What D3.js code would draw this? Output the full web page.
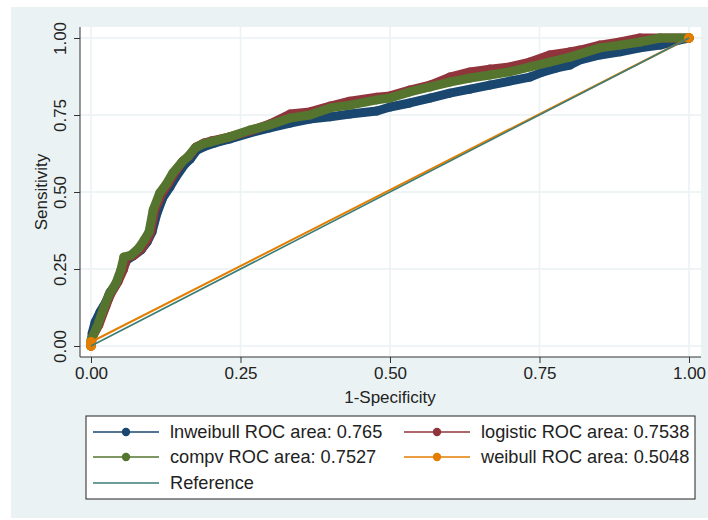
<!DOCTYPE html>
<html>
<head>
<meta charset="utf-8">
<script src="https://cdn.jsdelivr.net/npm/d3@7"></script>
<style>
  body { margin: 0; background: #fff; }
  svg { font-family: "Liberation Sans", Arial, sans-serif; }
</style>
</head>
<body>
<div id="chart"></div>
<script>
// ROC points, [1-specificity, sensitivity]
const lnweibull = [[0,0],[0.002,0.042],[0.007,0.078],[0.015,0.110],[0.025,0.143],[0.032,0.175],[0.042,0.201],[0.050,0.237],[0.060,0.279],[0.070,0.292],[0.084,0.312],[0.094,0.338],[0.102,0.370],[0.110,0.429],[0.120,0.481],[0.132,0.516],[0.142,0.549],[0.156,0.588],[0.166,0.607],[0.177,0.636],[0.191,0.649],[0.207,0.659],[0.232,0.672],[0.266,0.692],[0.299,0.708],[0.333,0.724],[0.366,0.737],[0.400,0.744],[0.433,0.753],[0.478,0.763],[0.500,0.776],[0.533,0.789],[0.567,0.805],[0.600,0.821],[0.634,0.834],[0.667,0.847],[0.700,0.860],[0.734,0.873],[0.756,0.890],[0.779,0.903],[0.801,0.912],[0.818,0.929],[0.851,0.945],[0.885,0.955],[0.918,0.968],[0.952,0.977],[0.985,0.994],[1,1]]
const logistic = [[0,0],[0.003,0.032],[0.013,0.068],[0.025,0.130],[0.033,0.169],[0.045,0.208],[0.054,0.247],[0.060,0.286],[0.072,0.295],[0.085,0.318],[0.094,0.344],[0.100,0.370],[0.107,0.442],[0.119,0.497],[0.130,0.529],[0.140,0.562],[0.154,0.601],[0.164,0.617],[0.176,0.646],[0.189,0.659],[0.202,0.666],[0.232,0.679],[0.266,0.698],[0.299,0.721],[0.333,0.753],[0.366,0.760],[0.400,0.779],[0.433,0.795],[0.478,0.808],[0.500,0.812],[0.533,0.831],[0.567,0.847],[0.600,0.873],[0.634,0.890],[0.667,0.899],[0.700,0.906],[0.734,0.922],[0.767,0.945],[0.801,0.955],[0.818,0.961],[0.851,0.977],[0.885,0.987],[0.918,1.0],[1,1]]
const compv = [[0,0],[0,0.019],[0.010,0.062],[0.022,0.127],[0.030,0.166],[0.042,0.205],[0.050,0.247],[0.055,0.289],[0.067,0.295],[0.080,0.318],[0.089,0.344],[0.097,0.370],[0.104,0.442],[0.115,0.497],[0.127,0.529],[0.137,0.562],[0.152,0.597],[0.162,0.614],[0.174,0.643],[0.187,0.656],[0.199,0.662],[0.232,0.679],[0.266,0.701],[0.299,0.718],[0.333,0.740],[0.366,0.750],[0.400,0.773],[0.433,0.782],[0.478,0.799],[0.500,0.805],[0.533,0.825],[0.567,0.841],[0.600,0.857],[0.634,0.870],[0.667,0.880],[0.700,0.890],[0.734,0.906],[0.767,0.922],[0.801,0.938],[0.851,0.968],[0.885,0.977],[0.918,0.987],[0.952,1.0],[1,1]]
const weibull = [[0,0],[0,0.013],[1,1]]
const reference = [[0,0],[1,1]]

const ticks = [0, 0.25, 0.5, 0.75, 1]
const series = [
  {name: 'lnweibull ROC area: 0.765', data: lnweibull, color: '#1a476f', thick: true},
  {name: 'logistic ROC area: 0.7538', data: logistic, color: '#90353b', thick: true},
  {name: 'compv ROC area: 0.7527', data: compv, color: '#55752f', thick: true},
  {name: 'weibull ROC area: 0.5048', data: weibull, color: '#e37e00', thick: false},
]

const svg = d3.select('#chart').append('svg')
  .attr('width', 708)
  .attr('height', 520)

// outer stata-style background
svg.append('rect').attr('x', 11).attr('y', 7).attr('width', 697).attr('height', 511).attr('fill', '#eaf2f3')

const plot = {left: 80, right: 701, top: 27, bottom: 357}
svg.append('rect')
  .attr('x', plot.left).attr('y', plot.top)
  .attr('width', plot.right - plot.left).attr('height', plot.bottom - plot.top)
  .attr('fill', '#fff')

const x = d3.scaleLinear().domain([0, 1]).range([91, 689])
const y = d3.scaleLinear().domain([0, 1]).range([346, 38])

// grid
svg.append('g').selectAll('line.gx')
  .data(ticks).enter().append('line')
  .attr('x1', d => x(d)).attr('x2', d => x(d))
  .attr('y1', plot.top).attr('y2', plot.bottom)
  .attr('stroke', '#eaf2f3').attr('stroke-width', 1.5)
svg.append('g').selectAll('line.gy')
  .data(ticks).enter().append('line')
  .attr('y1', d => y(d)).attr('y2', d => y(d))
  .attr('x1', plot.left).attr('x2', plot.right)
  .attr('stroke', '#eaf2f3').attr('stroke-width', 1.5)

// axes
const xAxis = svg.append('g').attr('transform', `translate(0,${plot.bottom})`)
  .call(d3.axisBottom(x).tickValues(ticks).tickFormat(d3.format('.2f')).tickSize(6).tickPadding(4).tickSizeOuter(0))
xAxis.select('.domain').attr('d', `M${plot.left},0H${plot.right}`).attr('stroke', '#333')
xAxis.selectAll('.tick line').attr('stroke', '#333')
xAxis.selectAll('.tick text').attr('font-size', 17).attr('fill', '#222').attr('font-family', null)

const yAxis = svg.append('g').attr('transform', `translate(${plot.left},0)`)
  .call(d3.axisLeft(y).tickValues(ticks).tickFormat(d3.format('.2f')).tickSize(6).tickSizeOuter(0))
yAxis.select('.domain').attr('d', `M0,${plot.top}V${plot.bottom}`).attr('stroke', '#333')
yAxis.selectAll('.tick line').attr('stroke', '#333')
yAxis.selectAll('.tick text')
  .attr('font-size', 17).attr('fill', '#222').attr('font-family', null)
  .attr('x', null).attr('dy', null)
  .attr('text-anchor', 'middle')
  .attr('transform', 'translate(-14,0) rotate(-90)')

svg.append('text').attr('x', 390).attr('y', 403).attr('text-anchor', 'middle')
  .attr('font-size', 17).attr('fill', '#222').text('1-Specificity')
svg.append('text').attr('transform', 'translate(47,192) rotate(-90)').attr('text-anchor', 'middle')
  .attr('font-size', 17).attr('fill', '#222').text('Sensitivity')

// curves
const line = d3.line().x(d => x(d[0])).y(d => y(d[1]))
const curves = svg.append('g')
series.forEach(s => {
  curves.append('path')
    .attr('d', line(s.data))
    .attr('fill', 'none')
    .attr('stroke', s.color)
    .attr('stroke-width', s.thick ? 9 : 2)
    .attr('stroke-linejoin', 'round')
    .attr('stroke-linecap', 'round')
  curves.append('g').selectAll('circle')
    .data(s.data).enter().append('circle')
    .attr('cx', d => x(d[0])).attr('cy', d => y(d[1]))
    .attr('r', s.thick ? 4.5 : 5)
    .attr('fill', s.color)
})
curves.append('path')
  .attr('d', line(reference))
  .attr('fill', 'none')
  .attr('stroke', '#3b7d76')
  .attr('stroke-width', 1.6)

// legend
const legend = svg.append('g')
legend.append('rect').attr('x', 86).attr('y', 416).attr('width', 609).attr('height', 83)
  .attr('fill', '#fff').attr('stroke', '#222').attr('stroke-width', 1)
const items = series.map(s => ({name: s.name, color: s.color, marker: true}))
  .concat([{name: 'Reference', color: '#3b7d76', marker: false}])
const cols = [93, 404]
const rows = [432, 457, 483]
items.forEach((d, i) => {
  const lx = cols[i % 2], ly = rows[Math.floor(i / 2)]
  const g = legend.append('g').attr('transform', `translate(${lx},${ly})`)
  g.append('line').attr('x1', 0).attr('x2', 66).attr('stroke', d.color).attr('stroke-width', 1.6)
  if (d.marker) g.append('circle').attr('cx', 33).attr('r', 4.2).attr('fill', d.color)
  g.append('text').attr('x', 77).attr('dy', '0.35em').attr('font-size', 18.2).attr('fill', '#222').text(d.name)
})
</script>
</body>
</html>
